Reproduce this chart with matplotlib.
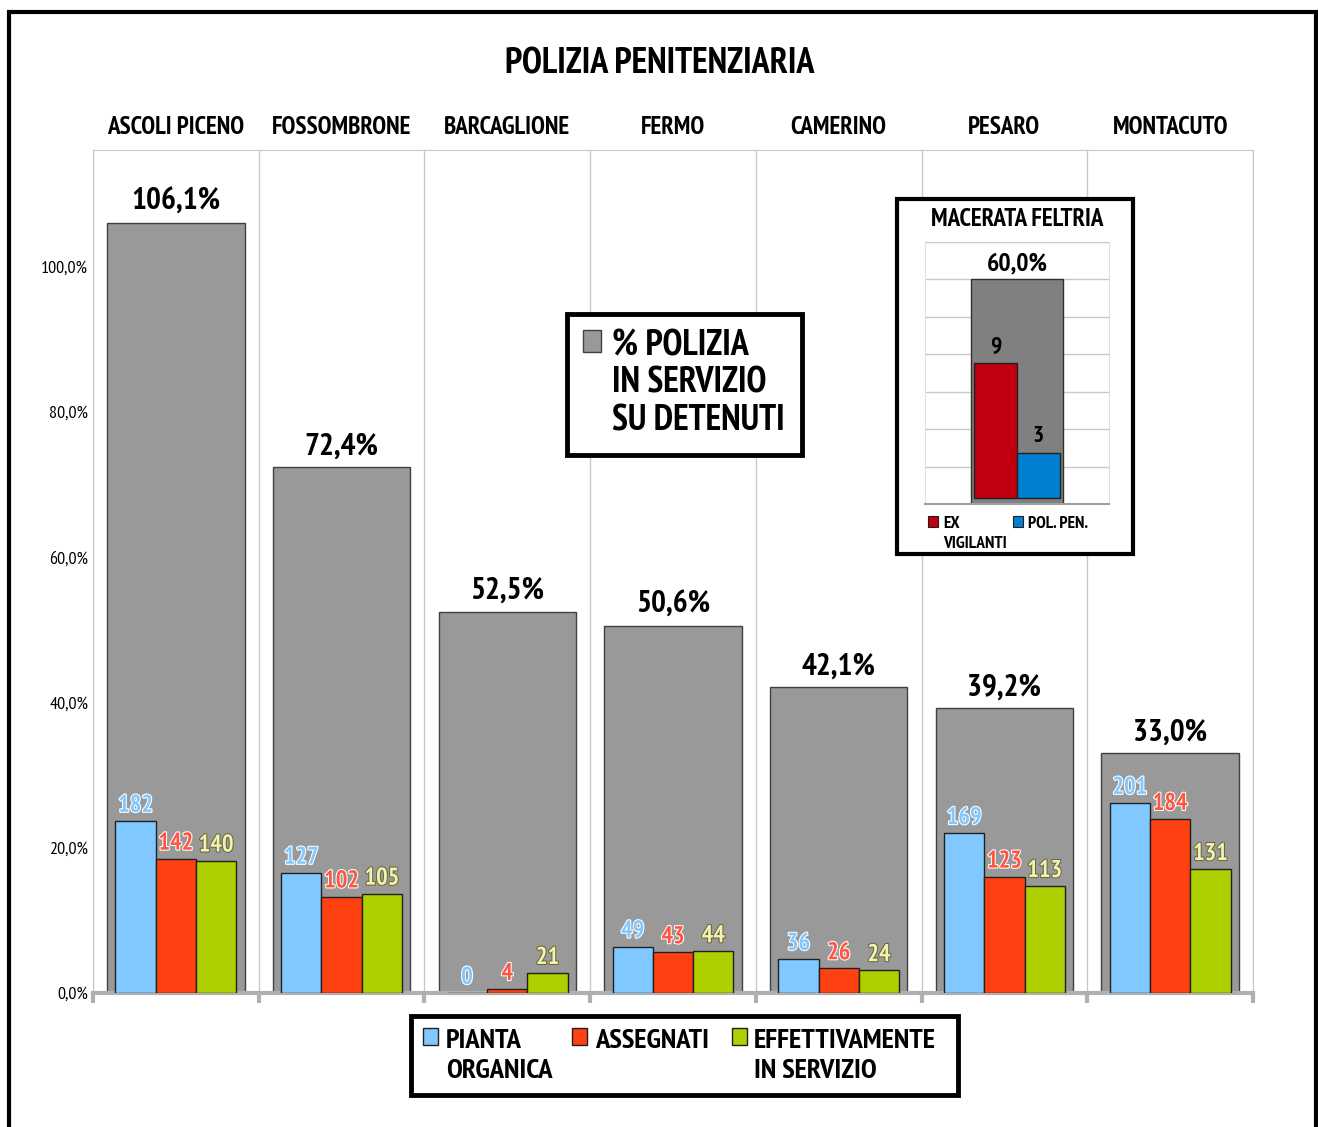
"""
polizia_penitenziaria.py

Grafico: percentuale polizia in servizio su detenuti per istituto,
con organico (pianta organica / assegnati / effettivamente in servizio).
"""

import matplotlib
matplotlib.use("Agg")
import matplotlib.pyplot as plt
import matplotlib.patheffects as pe
from matplotlib import font_manager
from matplotlib.patches import Rectangle
import numpy as np


# ==========================================================
# Dati
# ==========================================================

ISTITUTI = ["ASCOLI PICENO", "FOSSOMBRONE", "BARCAGLIONE", "FERMO",
            "CAMERINO", "PESARO", "MONTACUTO"]
PERC_POLIZIA = [106.1, 72.4, 52.5, 50.6, 42.1, 39.2, 33.0]
PIANTA_ORGANICA = [182, 127, 0, 49, 36, 169, 201]
ASSEGNATI = [142, 102, 4, 43, 26, 123, 184]
IN_SERVIZIO = [140, 105, 21, 44, 24, 113, 131]

PERC_TICKS = [0, 20, 40, 60, 80, 100]

# riquadro Macerata Feltria
MACERATA_PERC = 60.0
MACERATA_CATEGORIE = ["EX\nVIGILANTI", "POL. PEN."]
MACERATA_VALORI = [9, 3]

# ==========================================================
# Stile
# ==========================================================

W, H = 1318, 1127


def ha_grassetto(nome):
    for f in font_manager.fontManager.ttflist:
        if f.name == nome and f.style == "normal":
            w = f.weight if isinstance(f.weight, int) else \
                font_manager.weight_dict.get(f.weight, 400)
            if w >= 700:
                return True
    return False


CANDIDATI = ["Liberation Sans Narrow", "PT Sans Narrow", "Roboto Condensed",
             "Archivo Narrow", "Fira Sans Condensed", "IBM Plex Sans Condensed",
             "Encode Sans Condensed", "Asap Condensed", "Barlow Semi Condensed"]
FONT = next((c for c in CANDIDATI if ha_grassetto(c)), "Liberation Sans")
plt.rcParams["font.family"] = [FONT, "DejaVu Sans"]

GRIGIO = "#999999"
AZZURRO = "#80C8FF"
ROSSO = "#FF4010"
VERDE = "#AECF00"
LINEA = "#C8C8C8"


def fx(px):
    return px / W


def fy(py):
    return 1 - py / H


fig = plt.figure(figsize=(W / 100, H / 100), dpi=100)

# cornice esterna
fig.patches.append(Rectangle((fx(9), -0.05), fx(1316) - fx(9), fy(12) + 0.05,
                             transform=fig.transFigure, fill=False,
                             edgecolor="black", linewidth=3, zorder=0))

fig.text(fx(660), fy(64), "POLIZIA PENITENZIARIA", ha="center", va="center",
         fontsize=26, fontweight="bold")

# ==========================================================
# Grafico principale
# ==========================================================

ax = fig.add_axes([fx(93), fy(993), fx(1253) - fx(93), fy(150) - fy(993)])
x = np.arange(len(ISTITUTI))

barre = ax.bar(x, PERC_POLIZIA, width=0.83, color=GRIGIO,
               edgecolor="#404040", linewidth=1)
ax.bar_label(barre, labels=[f"{v:.1f}%".replace(".", ",") for v in PERC_POLIZIA],
             padding=5, fontsize=22.5, fontweight="bold")

ax.set_xlim(-0.5, len(ISTITUTI) - 0.5)
ax.set_ylim(0, 116.1)
ax.set_yticks(PERC_TICKS,
              labels=[f"{v:.1f}%".replace(".", ",") for v in PERC_TICKS])
ax.set_xticks(x, labels=ISTITUTI)
ax.set_xticks(np.arange(len(ISTITUTI) + 1) - 0.5, minor=True)
ax.tick_params(axis="x", which="major", bottom=False, labelbottom=False,
               top=False, labeltop=True, length=0, pad=8, labelsize=18)
for lab in ax.get_xticklabels():
    lab.set_fontweight("bold")
ax.tick_params(axis="x", which="minor", bottom=True, top=False, length=7,
               width=3, color="#B0B0B0", direction="out")
ax.tick_params(axis="y", length=0, pad=3.5, labelsize=13)
ax.grid(axis="x", which="minor", color=LINEA, linewidth=1)
ax.set_axisbelow(True)
for side in ["top", "left", "right"]:
    ax.spines[side].set_color(LINEA)
ax.spines["bottom"].set_color("#B0B0B0")
ax.spines["bottom"].set_linewidth(3)

# organico su asse secondario
ax2 = ax.twinx()
ax2.set_ylim(0, 892)
ax2.set_yticks([])
for s in ax2.spines.values():
    s.set_visible(False)

bw = 0.243
serie = [
    (PIANTA_ORGANICA, -bw, AZZURRO, AZZURRO, "white"),
    (ASSEGNATI, 0, ROSSO, "#FF5540", "white"),
    (IN_SERVIZIO, bw, VERDE, "#F2F2B8", "#6A6A30"),
]
for valori, off, colore, col_testo, bordo in serie:
    b = ax2.bar(x + off, valori, width=bw, color=colore,
                edgecolor="#202020", linewidth=1)
    ax2.bar_label(b, padding=3, fontsize=17.5, fontweight="bold",
                  color=col_testo,
                  path_effects=[pe.withStroke(linewidth=1.5, foreground=bordo)])

# legenda % polizia
fig.patches.append(Rectangle((fx(567), fy(455)), fx(802) - fx(567),
                             fy(314) - fy(455), transform=fig.transFigure,
                             facecolor="white", edgecolor="black",
                             linewidth=3.5, zorder=2))
fig.patches.append(Rectangle((fx(583), fy(352)), fx(601) - fx(583),
                             fy(330) - fy(352), transform=fig.transFigure,
                             facecolor=GRIGIO, edgecolor="#404040",
                             linewidth=1, zorder=3))
fig.text(fx(612), fy(329), "% POLIZIA\nIN SERVIZIO\nSU DETENUTI",
         ha="left", va="top", fontsize=26, fontweight="bold",
         linespacing=1.19, zorder=3)

# legenda organico
fig.patches.append(Rectangle((fx(411), fy(1095)), fx(958) - fx(411),
                             fy(1016) - fy(1095), transform=fig.transFigure,
                             facecolor="white", edgecolor="black",
                             linewidth=3.5, zorder=2))
voci = [(423, 446, AZZURRO, "PIANTA\nORGANICA"),
        (572, 595, ROSSO, "ASSEGNATI"),
        (732, 754, VERDE, "EFFETTIVAMENTE\nIN SERVIZIO")]
for qx, tx, colore, testo in voci:
    fig.patches.append(Rectangle((fx(qx), fy(1045)), fx(qx + 15) - fx(qx),
                                 fy(1028) - fy(1045), transform=fig.transFigure,
                                 facecolor=colore, edgecolor="#202020",
                                 linewidth=1, zorder=3))
    fig.text(fx(tx), fy(1029), testo, ha="left", va="top", fontsize=20.5,
             fontweight="bold", linespacing=1.3, zorder=3)

# ==========================================================
# Riquadro Macerata Feltria
# ==========================================================

fig.patches.append(Rectangle((fx(897), fy(554)), fx(1133) - fx(897),
                             fy(199) - fy(554), transform=fig.transFigure,
                             facecolor="white", edgecolor="black",
                             linewidth=3, zorder=2))
fig.text(fx(1017), fy(219), "MACERATA FELTRIA", ha="center", va="center",
         fontsize=18, fontweight="bold", zorder=3)

axi = fig.add_axes([fx(925), fy(504), fx(1109) - fx(925), fy(242) - fy(504)],
                   zorder=3)
gb = axi.bar([0], [MACERATA_PERC], width=1, color="#808080",
             edgecolor="#303030", linewidth=1)
axi.bar_label(gb, labels=[f"{MACERATA_PERC:.1f}%".replace(".", ",")],
              padding=3, fontsize=18.5, fontweight="bold")
axi.set_xlim(-1, 1)
axi.set_ylim(0, 70)
axi.set_xticks([])
axi.set_yticks(np.arange(0, 71, 10))
axi.tick_params(axis="y", length=0, labelleft=False)
axi.grid(axis="y", color=LINEA, linewidth=1)
axi.set_axisbelow(True)
axi.spines["top"].set_visible(False)
for side in ["left", "right"]:
    axi.spines[side].set_color("#E0E0E0")
axi.spines["bottom"].set_color("#A0A0A0")
axi.spines["bottom"].set_linewidth(1.5)

axi2 = axi.twinx()
axi2.set_ylim(-0.4, 17.07)
axi2.set_yticks([])
for s in axi2.spines.values():
    s.set_visible(False)
mb = axi2.bar([-0.233, 0.233], MACERATA_VALORI, width=0.465,
              color=["#C00010", "#0080D0"], edgecolor="#202020", linewidth=1)
axi2.bar_label(mb, padding=4, fontsize=17, fontweight="bold")

for (qx, tx), colore, testo in zip([(928, 943), (1013, 1028)],
                                   ["#C00010", "#0080D0"], MACERATA_CATEGORIE):
    fig.patches.append(Rectangle((fx(qx), fy(527)), fx(qx + 10) - fx(qx),
                                 fy(516) - fy(527), transform=fig.transFigure,
                                 facecolor=colore, edgecolor="#202020",
                                 linewidth=0.8, zorder=4))
    fig.text(fx(tx), fy(516), testo, ha="left", va="top", fontsize=12.5,
             fontweight="bold", linespacing=1.3, zorder=4)

fig.savefig("out.png", dpi=100)
